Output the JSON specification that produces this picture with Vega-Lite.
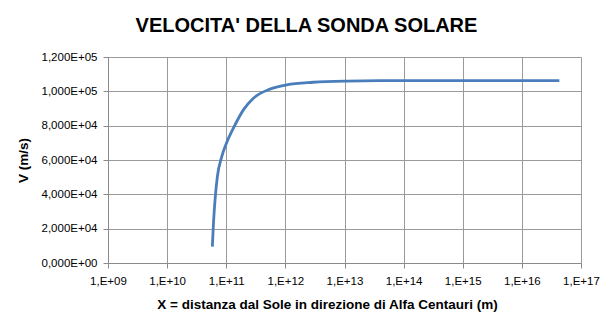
{
  "$schema": "https://vega.github.io/schema/vega-lite/v6.json",
  "width": 473,
  "height": 206,
  "autosize": {"type": "none"},
  "padding": {"left": 108, "top": 57, "right": 34, "bottom": 65},
  "background": "white",
  "title": {
    "text": "VELOCITA' DELLA SONDA SOLARE",
    "font": "Liberation Sans",
    "fontSize": 20,
    "fontWeight": "bold",
    "color": "black",
    "anchor": "middle",
    "dx": -38,
    "offset": 15
  },
  "data": {
    "values": [
      {"x": 5.82e10, "v": 9500},
      {"x": 6.1e10, "v": 24000},
      {"x": 6.46e10, "v": 36700},
      {"x": 7.07e10, "v": 50300},
      {"x": 8.4e10, "v": 62000},
      {"x": 9.8e10, "v": 68800},
      {"x": 1.32e11, "v": 78500},
      {"x": 1.95e11, "v": 89200},
      {"x": 2.88e11, "v": 96000},
      {"x": 5.5e11, "v": 101300},
      {"x": 1.05e12, "v": 103800},
      {"x": 2.95e12, "v": 105300},
      {"x": 1.09e13, "v": 106000},
      {"x": 4e13, "v": 106200},
      {"x": 1e14, "v": 106200},
      {"x": 1e15, "v": 106200},
      {"x": 1e16, "v": 106200},
      {"x": 4.3e16, "v": 106200}
    ]
  },
  "mark": {"type": "line", "color": "#4a7ebb", "strokeWidth": 2.8, "interpolate": "monotone"},
  "encoding": {
    "x": {
      "field": "x",
      "type": "quantitative",
      "scale": {"type": "log", "domain": [1e9, 1e17], "nice": false},
      "axis": {
        "values": [1e9, 1e10, 1e11, 1e12, 1e13, 1e14, 1e15, 1e16, 1e17],
        "labelExpr": "'1,E+' + (round(log(datum.value)/LN10) < 10 ? '0' : '') + round(log(datum.value)/LN10)",
        "title": "X = distanza  dal Sole in direzione di Alfa Centauri (m)",
        "titleX": 219,
        "titleAlign": "center",
        "titleFontSize": 13.5,
        "titlePadding": 11,
        "labelPadding": 7,
        "labelFlush": false
      }
    },
    "y": {
      "field": "v",
      "type": "quantitative",
      "scale": {"domain": [0, 120000], "nice": false},
      "axis": {
        "values": [0, 20000, 40000, 60000, 80000, 100000, 120000],
        "labelExpr": "replace(replace(format(datum.value, '.3e'), '.', ','), 'e+', 'E+0')",
        "title": "V (m/s)",
        "titleFontSize": 13.5,
        "titlePadding": 11,
        "labelPadding": 6
      }
    }
  },
  "config": {
    "view": {"stroke": null},
    "axis": {
      "labelFont": "Liberation Sans",
      "labelFontSize": 11.5,
      "labelColor": "black",
      "titleFont": "Liberation Sans",
      "titleFontSize": 13,
      "titleFontWeight": "bold",
      "titleColor": "black",
      "gridColor": "#9a9a9a",
      "gridOpacity": 1,
      "gridWidth": 1,
      "domainColor": "#8a8a8a",
      "tickColor": "#8a8a8a",
      "tickSize": 5
    }
  }
}
